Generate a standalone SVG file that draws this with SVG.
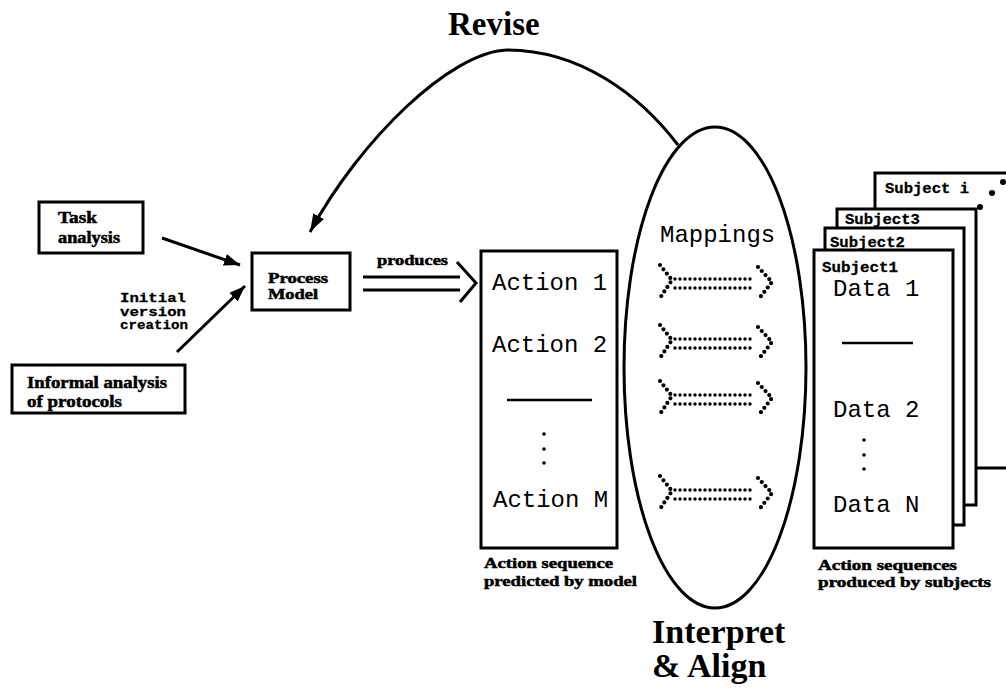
<svg xmlns="http://www.w3.org/2000/svg" width="1006" height="692" viewBox="0 0 1006 692">
<style>
.box{fill:#fff;stroke:#000;stroke-width:3}
.ln{fill:none;stroke:#000;stroke-width:3}
.lbl{font-family:"Liberation Serif",serif;font-weight:bold;fill:#000}
.sm{stroke:#000;stroke-width:0.5}
.mono{font-family:"Liberation Mono",monospace;fill:#000}
.mb{font-family:"Liberation Mono",monospace;font-weight:bold;fill:#000;stroke:#000;stroke-width:0.3}
.dot{fill:none;stroke:#000;stroke-width:3.4;stroke-linecap:round;stroke-dasharray:0 5}
.dotb{fill:none;stroke:#000;stroke-width:4.2;stroke-linecap:round;stroke-dasharray:0 5.5}
</style>
<defs>
<marker id="ah" markerUnits="userSpaceOnUse" markerWidth="20" markerHeight="14" refX="16" refY="6" orient="auto">
<path d="M0,0 L16,6 L0,12 Z" fill="#000"/>
</marker>
<marker id="ahR" markerUnits="userSpaceOnUse" markerWidth="22" markerHeight="14" refX="18" refY="6" orient="auto">
<path d="M0,0 L18,6 L0,12 Z" fill="#000"/>
</marker>
<g id="maparrow">
<path class="dotb" d="M660,-18.5 L672,-3.5 L660,14.5"/>
<path class="dot" d="M675,-4.5 L754,-4.5"/>
<path class="dot" d="M675,4.5 L754,4.5"/>
<path class="dotb" d="M758,-16.5 L772,-1.5 L758,16.5"/>
</g>
</defs>
<rect width="1006" height="692" fill="#fff"/>

<g id="connectors">
<path class="ln" d="M678,145 C640,95 580,50 507,50 C450,52 360,140 310,232" marker-end="url(#ahR)"/>
<line class="ln" x1="162" y1="238" x2="240" y2="265" marker-end="url(#ah)"/>
<line class="ln" x1="177" y1="352" x2="245" y2="286" marker-end="url(#ah)"/>
<line class="ln" x1="363" y1="277" x2="460" y2="277"/>
<line class="ln" x1="363" y1="290" x2="460" y2="290"/>
<path class="ln" d="M457,262 L476,283 L460,302"/>
</g>

<text class="lbl" x="448" y="35" font-size="33">Revise</text>

<g id="task">
<rect class="box" x="39" y="202" width="104" height="51"/>
<text class="lbl sm" x="58" y="223" font-size="16" textLength="39" lengthAdjust="spacingAndGlyphs">Task</text>
<text class="lbl sm" x="58" y="243" font-size="16" textLength="62" lengthAdjust="spacingAndGlyphs">analysis</text>
</g>

<g id="informal">
<rect class="box" x="12" y="365" width="173" height="48"/>
<text class="lbl sm" x="27" y="388" font-size="16" textLength="140" lengthAdjust="spacingAndGlyphs">Informal analysis</text>
<text class="lbl sm" x="27" y="407" font-size="16" textLength="95" lengthAdjust="spacingAndGlyphs">of protocols</text>
</g>

<g id="initial">
<text class="mb" x="120" y="302" font-size="13" textLength="66" lengthAdjust="spacingAndGlyphs">Initial</text>
<text class="mb" x="120" y="316" font-size="13" textLength="66" lengthAdjust="spacingAndGlyphs">version</text>
<text class="mb" x="120" y="329" font-size="13" textLength="68" lengthAdjust="spacingAndGlyphs">creation</text>
</g>

<g id="process">
<rect class="box" x="252" y="253" width="98" height="57"/>
<text class="lbl sm" x="268" y="283" font-size="14" textLength="60" lengthAdjust="spacingAndGlyphs">Process</text>
<text class="lbl sm" x="268" y="299" font-size="14" textLength="50" lengthAdjust="spacingAndGlyphs">Model</text>
</g>

<text class="lbl sm" x="377" y="265" font-size="15" textLength="71" lengthAdjust="spacingAndGlyphs">produces</text>

<g id="actions">
<rect class="box" x="481" y="251" width="136" height="297"/>
<text class="mono" x="492" y="290" font-size="24">Action 1</text>
<text class="mono" x="492" y="352" font-size="24">Action 2</text>
<line x1="507" y1="400" x2="592" y2="400" stroke="#000" stroke-width="2.5"/>
<circle cx="544" cy="434" r="1.8"/>
<circle cx="544" cy="449" r="1.8"/>
<circle cx="544" cy="463" r="1.8"/>
<text class="mono" x="493" y="507" font-size="24">Action M</text>
<text class="lbl sm" x="484" y="568" font-size="15" textLength="129" lengthAdjust="spacingAndGlyphs">Action sequence</text>
<text class="lbl sm" x="484" y="586" font-size="15" textLength="153" lengthAdjust="spacingAndGlyphs">predicted by model</text>
</g>

<g id="interpret">
<ellipse cx="715" cy="367.5" rx="91" ry="240.5" fill="none" stroke="#000" stroke-width="3"/>
<text class="mono" x="660" y="242" font-size="24">Mappings</text>
<use href="#maparrow" transform="translate(0,283.5)"/>
<use href="#maparrow" transform="translate(0,343.5)"/>
<use href="#maparrow" transform="translate(0,399.5)"/>
<use href="#maparrow" transform="translate(0,494.5)"/>
<text class="lbl" x="652" y="643" font-size="34">Interpret</text>
<text class="lbl" x="652" y="677" font-size="34">&amp; Align</text>
</g>

<g id="subjects">
<rect class="box" x="875" y="173" width="150" height="295"/>
<text class="mb" x="885" y="193" font-size="15" textLength="84" lengthAdjust="spacingAndGlyphs">Subject i</text>
<rect class="box" x="837" y="209" width="139" height="296"/>
<text class="mb" x="845" y="224" font-size="15" textLength="75" lengthAdjust="spacingAndGlyphs">Subject3</text>
<rect class="box" x="825" y="228" width="139" height="297"/>
<text class="mb" x="830" y="247" font-size="15" textLength="75" lengthAdjust="spacingAndGlyphs">Subject2</text>
<rect class="box" x="814" y="250" width="139" height="298"/>
<text class="mb" x="822" y="272" font-size="15" textLength="76" lengthAdjust="spacingAndGlyphs">Subject1</text>
<circle cx="980" cy="207" r="3"/>
<circle cx="992" cy="193" r="3"/>
<circle cx="1003" cy="182" r="3"/>
<text class="mono" x="833" y="296" font-size="24">Data 1</text>
<line x1="842" y1="343" x2="913" y2="343" stroke="#000" stroke-width="2.5"/>
<text class="mono" x="833" y="417" font-size="24">Data 2</text>
<circle cx="864" cy="440" r="1.8"/>
<circle cx="864" cy="455" r="1.8"/>
<circle cx="864" cy="469" r="1.8"/>
<text class="mono" x="833" y="512" font-size="24">Data N</text>
<text class="lbl sm" x="818" y="570" font-size="15" textLength="139" lengthAdjust="spacingAndGlyphs">Action sequences</text>
<text class="lbl sm" x="818" y="587" font-size="15" textLength="173" lengthAdjust="spacingAndGlyphs">produced by subjects</text>
</g>
</svg>
